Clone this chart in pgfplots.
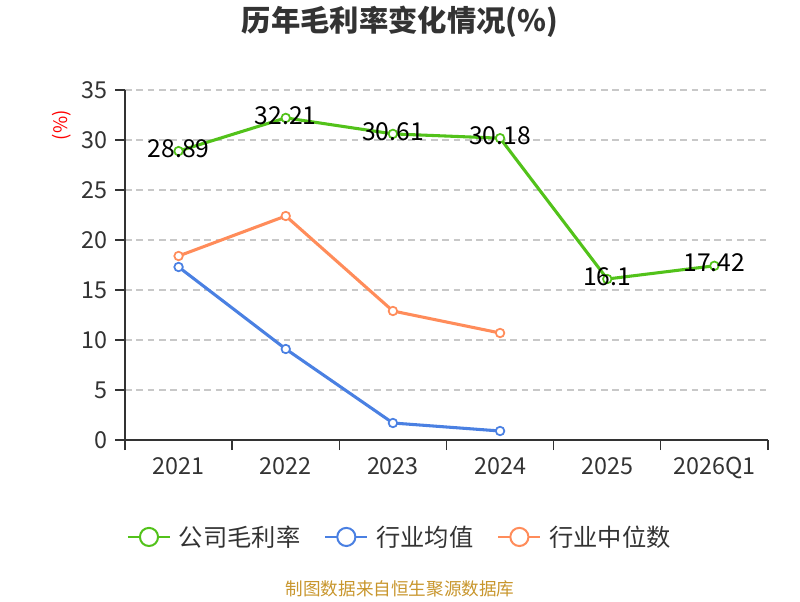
\documentclass[border=0pt]{standalone}
\usepackage{pgfplots}
\pgfplotsset{compat=1.18}
\usepackage{fontspec}
\setmainfont{Noto Sans CJK SC}
\definecolor{cgreen}{RGB}{82,194,26}
\definecolor{cblue}{RGB}{74,128,226}
\definecolor{corange}{RGB}{255,140,90}
\definecolor{axiscol}{RGB}{51,51,51}
\definecolor{gridcol}{RGB}{200,200,200}
\definecolor{srccol}{RGB}{200,150,45}
\begin{document}
\begin{tikzpicture}[x=1pt,y=1pt]
\path (0,0) rectangle (600,450);
\begin{axis}[
  at={(93.75pt,120pt)}, anchor=south west,
  scale only axis, width=482.25pt, height=262.5pt,
  xmin=-0.5, xmax=5.5, ymin=0, ymax=35,
  axis lines=left, axis line style={-, draw=axiscol, line width=1pt},
  xtick={0,1,2,3,4,5},
  xticklabels={2021,2022,2023,2024,2025,2026Q1},
  major x tick style={draw=none},
  extra x ticks={-0.5,0.5,1.5,2.5,3.5,4.5,5.5},
  extra x tick labels={},
  extra x tick style={major tick length=7.5pt, tick align=outside, major x tick style={draw=axiscol, line width=1pt}, grid=none},
  ytick={0,5,...,35},
  ytick style={draw=axiscol, line width=1pt},
  tick align=outside, major tick length=7.5pt,
  ymajorgrids, grid style={dashed, gridcol, line width=0.9pt, dash pattern=on 5pt off 3.5pt},
  ticklabel style={font=\fontsize{17.5}{20}\selectfont, text=axiscol},
  xticklabel style={yshift=-2pt},
  yticklabel style={xshift=-2pt},
  /pgf/number format/assume math mode=true,
  every axis plot/.append style={line width=2.3pt, mark=*, mark size=3.2pt, mark options={fill=white, line width=1.3pt}},
  legend style={at={(0.428,-0.277)}, anchor=center, draw=none, fill=none, font=\fontsize{18.2}{20}\selectfont, text=axiscol, /tikz/every even column/.append style={column sep=16pt}, /tikz/every odd column/.append style={column sep=4pt}},
  legend columns=3,
  legend image code/.code={\draw[line width=1.5pt] (0pt,0pt) -- (31.5pt,0pt); \draw[line width=1.5pt, fill=white] (15.75pt,0pt) circle (6.8pt);},
  clip=false,
]
\addplot[color=cgreen, nodes near coords, point meta=explicit symbolic,
  every node near coord/.style={anchor=center, yshift=2pt, text=black, font=\fontsize{18.5}{20}\selectfont}]
  table[meta=lab] {
x y lab
0 28.89 28.89
1 32.21 32.21
2 30.61 30.61
3 30.18 30.18
4 16.10 16.1
5 17.42 17.42
};
\addlegendentry{公司毛利率}
\addplot[color=cblue] coordinates {(0,17.3) (1,9.1) (2,1.7) (3,0.9)};
\addlegendentry{行业均值}
\addplot[color=corange] coordinates {(0,18.4) (1,22.4) (2,12.9) (3,10.7)};
\addlegendentry{行业中位数}
\end{axis}
\node[font=\bfseries\fontsize{22}{26}\selectfont, text=axiscol] at (300,433.5) {历年毛利率变化情况(\%)};
\node[rotate=90, text=red, font=\fontsize{14}{16}\selectfont] at (46.5,356) {(\%)};
\node[text=srccol, font=\fontsize{13.2}{15}\selectfont] at (300,8) {制图数据来自恒生聚源数据库};
\end{tikzpicture}
\end{document}
